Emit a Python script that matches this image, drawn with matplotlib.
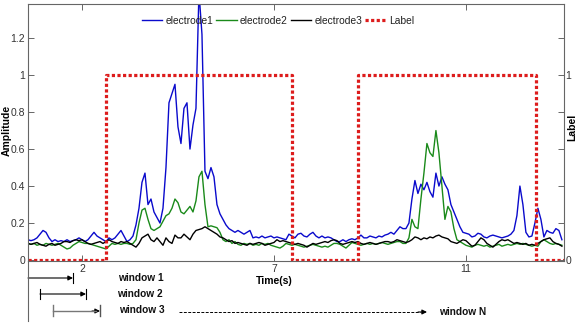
import numpy as np
import matplotlib
matplotlib.use("Agg")
import matplotlib.pyplot as plt
from matplotlib.lines import Line2D
from matplotlib.patches import FancyArrowPatch

plt.rcParams['font.family'] = ['Liberation Sans', 'DejaVu Sans']

# ---------------- data (sample index, uniform sampling) ----------------
electrode1 = [
    0.11, 0.105, 0.11, 0.12, 0.14, 0.16, 0.15, 0.12, 0.10, 0.11,
    0.10, 0.105, 0.10, 0.11, 0.10, 0.105, 0.11, 0.12, 0.11, 0.10,
    0.11, 0.13, 0.15, 0.13, 0.12, 0.11, 0.10, 0.12, 0.11, 0.12,
    0.14, 0.16, 0.13, 0.10, 0.11, 0.13, 0.19, 0.28, 0.42, 0.47,
    0.30, 0.33, 0.26, 0.23, 0.20, 0.28, 0.50, 0.85, 0.90, 0.95,
    0.72, 0.63, 0.82, 0.85, 0.60, 0.73, 0.82, 1.45, 1.22, 0.48,
    0.44, 0.50, 0.45, 0.30, 0.25, 0.22, 0.19, 0.17, 0.16, 0.15,
    0.16, 0.15, 0.14, 0.15, 0.16, 0.12, 0.125, 0.12, 0.13, 0.12,
    0.125, 0.13, 0.12, 0.125, 0.12, 0.115, 0.11, 0.14, 0.13, 0.12,
    0.14, 0.145, 0.13, 0.125, 0.14, 0.15, 0.13, 0.12, 0.13, 0.12,
    0.125, 0.12, 0.11, 0.10, 0.10, 0.11, 0.10, 0.11, 0.115, 0.11,
    0.12, 0.135, 0.12, 0.12, 0.13, 0.125, 0.12, 0.13, 0.125, 0.135,
    0.14, 0.15, 0.14, 0.16, 0.18, 0.17, 0.17, 0.20, 0.33, 0.43,
    0.36, 0.41, 0.38, 0.42, 0.37, 0.34, 0.47, 0.40, 0.45, 0.41,
    0.38, 0.30, 0.26, 0.22, 0.18, 0.15, 0.145, 0.14, 0.125, 0.13,
    0.145, 0.14, 0.125, 0.12, 0.13, 0.135, 0.13, 0.125, 0.12, 0.125,
    0.13, 0.14, 0.16, 0.24, 0.40, 0.30, 0.15, 0.125, 0.13, 0.20,
    0.28, 0.22, 0.125, 0.16, 0.15, 0.145, 0.17, 0.16, 0.11,
]
electrode2 = [
    0.09, 0.085, 0.09, 0.08, 0.085, 0.08, 0.09, 0.085, 0.08, 0.085,
    0.09, 0.08, 0.07, 0.06, 0.065, 0.08, 0.09, 0.10, 0.095, 0.09,
    0.09, 0.085, 0.08, 0.075, 0.07, 0.065, 0.06, 0.075, 0.09, 0.085,
    0.09, 0.085, 0.09, 0.09, 0.085, 0.09, 0.11, 0.20, 0.27, 0.28,
    0.22, 0.17, 0.16, 0.17, 0.18, 0.21, 0.24, 0.25, 0.28, 0.33,
    0.31, 0.26, 0.25, 0.27, 0.29, 0.26, 0.32, 0.45, 0.48, 0.30,
    0.18, 0.185, 0.18, 0.175, 0.15, 0.11, 0.10, 0.11, 0.09, 0.10,
    0.085, 0.08, 0.09, 0.085, 0.09, 0.08, 0.085, 0.08, 0.09, 0.085,
    0.09, 0.08, 0.075, 0.07, 0.065, 0.075, 0.09, 0.085, 0.08, 0.085,
    0.08, 0.075, 0.07, 0.075, 0.08, 0.085, 0.08, 0.075, 0.07, 0.075,
    0.07, 0.08, 0.09, 0.09, 0.085, 0.075, 0.065, 0.08, 0.095, 0.09,
    0.085, 0.08, 0.085, 0.09, 0.085, 0.09, 0.085, 0.09, 0.095, 0.09,
    0.085, 0.09, 0.095, 0.10, 0.10, 0.09, 0.09, 0.12, 0.22, 0.18,
    0.17, 0.33, 0.47, 0.63, 0.58, 0.56, 0.70, 0.58, 0.40, 0.22,
    0.29, 0.26, 0.17, 0.11, 0.10, 0.09, 0.08, 0.075, 0.07, 0.08,
    0.085, 0.08, 0.075, 0.08, 0.07, 0.075, 0.08, 0.085, 0.075, 0.08,
    0.085, 0.08, 0.085, 0.09, 0.085, 0.09, 0.085, 0.08, 0.075, 0.08,
    0.075, 0.10, 0.11, 0.10, 0.09, 0.085, 0.09, 0.085, 0.08,
]
electrode3 = [
    0.09, 0.085, 0.09, 0.095, 0.085, 0.08, 0.075, 0.085, 0.09, 0.08,
    0.085, 0.09, 0.10, 0.10, 0.095, 0.105, 0.11, 0.105, 0.11, 0.10,
    0.09, 0.085, 0.09, 0.095, 0.10, 0.09, 0.10, 0.11, 0.10, 0.095,
    0.09, 0.10, 0.095, 0.10, 0.09, 0.08, 0.07, 0.09, 0.12, 0.13,
    0.14, 0.11, 0.10, 0.12, 0.10, 0.08, 0.12, 0.10, 0.09, 0.135,
    0.12, 0.12, 0.14, 0.125, 0.11, 0.14, 0.16, 0.165, 0.17, 0.18,
    0.17, 0.16, 0.15, 0.14, 0.125, 0.12, 0.11, 0.10, 0.105, 0.09,
    0.095, 0.09, 0.085, 0.08, 0.09, 0.085, 0.09, 0.095, 0.09, 0.08,
    0.085, 0.09, 0.095, 0.11, 0.10, 0.105, 0.10, 0.095, 0.09, 0.085,
    0.09, 0.085, 0.08, 0.07, 0.08, 0.09, 0.085, 0.09, 0.095, 0.10,
    0.095, 0.105, 0.11, 0.105, 0.09, 0.085, 0.09, 0.095, 0.10, 0.095,
    0.10, 0.09, 0.085, 0.09, 0.095, 0.09, 0.085, 0.09, 0.095, 0.10,
    0.10, 0.095, 0.10, 0.11, 0.105, 0.10, 0.095, 0.10, 0.11, 0.125,
    0.12, 0.11, 0.12, 0.115, 0.125, 0.12, 0.13, 0.135, 0.125, 0.12,
    0.115, 0.10, 0.095, 0.09, 0.10, 0.11, 0.105, 0.09, 0.075, 0.08,
    0.10, 0.12, 0.11, 0.09, 0.08, 0.07, 0.085, 0.10, 0.11, 0.105,
    0.11, 0.10, 0.09, 0.095, 0.09, 0.085, 0.09, 0.08, 0.085, 0.08,
    0.09, 0.10, 0.11, 0.115, 0.12, 0.10, 0.09, 0.085, 0.075,
]
# label: step changes (in sample index) and levels
label_edges = [0, 26, 88, 110, 169.3, 178.7]
label_levels = [0, 1, 0, 1, 0]

series_names = ['electrode1', 'electrode2', 'electrode3', 'Label']
xtick_labels = ['2', '7', '11']
xtick_pos = [18, 82, 146]
ytick_vals = [0, 0.2, 0.4, 0.6, 0.8, 1, 1.2]
ytick_labels = ['0', '0.2', '0.4', '0.6', '0.8', '1', '1.2']
right_labels = ['0', '', '', '', '', '1', '']

# ---------------- figure ----------------
W, H = 579, 324
fig = plt.figure(figsize=(W / 100, H / 100), dpi=100)
ax = fig.add_axes([28 / W, 1 - 261 / H, (564 - 28) / W, (261 - 4) / H])

x = np.arange(len(electrode1))
ax.plot(x, electrode1, color='#0a0acc', lw=1.0, label=series_names[0])
ax.plot(x, electrode2, color='#1a8a1a', lw=1.0, label=series_names[1])
ax.plot(x, electrode3, color='black', lw=1.0, label=series_names[2])

lx = np.array(label_edges)
ly = np.array(label_levels + [label_levels[-1]])
ax.step(lx, ly, where='post', color='#dd1c1c', lw=2.3,
        linestyle=(0, (1.0, 0.75)), label=series_names[3])

ax.set_xlim(0, 178.7)
ax.set_ylim(-0.005, 1.384)

grey = '#666666'
for s in ax.spines.values():
    s.set_color(grey)
    s.set_linewidth(0.8)

ax.set_xticks(xtick_pos)
ax.set_xticklabels(xtick_labels)
ax.set_yticks(ytick_vals)
ax.set_yticklabels(ytick_labels)
ax.tick_params(direction='in', length=4, width=0.7, color=grey,
               labelsize=7.5, labelcolor='#333333', top=True, right=False, pad=2)

ax2 = ax.twinx()
ax2.set_ylim(ax.get_ylim())
ax2.set_yticks(ytick_vals)
ax2.set_yticklabels(right_labels)
ax2.tick_params(direction='in', length=4, width=0.7, color=grey,
                labelsize=7.5, labelcolor='#333333', pad=1)
for s in ax2.spines.values():
    s.set_visible(False)

# axis titles
fig.text(7 / W, 1 - 130 / H, 'Amplitude', fontsize=7.5, fontweight='bold',
         rotation=90, ha='center', va='center')
fig.text(572 / W, 1 - 127 / H, 'Label', fontsize=7.5, fontweight='bold',
         rotation=90, ha='center', va='center')
fig.text(274 / W, 1 - 281 / H, 'Time(s)', fontsize=7.5, fontweight='bold',
         ha='center', va='center')

leg = ax.legend(ncol=4, loc='center', bbox_to_anchor=((278 - 28) / 536, (261 - 21) / 257),
                frameon=False, fontsize=7.4, handlelength=2.0, handletextpad=0.3,
                columnspacing=0.3, borderpad=0.1)
for t in leg.get_texts():
    t.set_color('#222222')


# ---------------- window annotations (figure pixel coords) ----------------
def fp(px, py):
    return (px / W, 1 - py / H)


def seg(p0, p1, color='black', lw=0.8, ls='-'):
    (x0, y0), (x1, y1) = fp(*p0), fp(*p1)
    fig.add_artist(Line2D([x0, x1], [y0, y1], transform=fig.transFigure,
                          color=color, lw=lw, linestyle=ls))


def arrow(p0, p1, color='black', lw=0.8, ls='-'):
    fig.add_artist(FancyArrowPatch(
        fp(*p0), fp(*p1), transform=fig.transFigure, arrowstyle='-|>',
        mutation_scale=7, color=color, lw=lw, linestyle=ls,
        shrinkA=0, shrinkB=0))


# extended left axis line
seg((28, 261), (28, 321), color=grey, lw=0.8)

# window 1
arrow((28, 278), (73, 278))
seg((73, 273), (73, 283))
# window 2
arrow((40, 294), (86, 294))
seg((40, 289), (40, 299))
seg((86, 289), (86, 299))
# window 3
seg((53, 311), (96, 311), color='#777777', lw=1.0)
arrow((92, 311), (100, 311))
seg((53, 305), (53, 316), color='#777777', lw=1.0)
seg((100, 305), (100, 316), color='#555555', lw=1.0)
# dashed arrow to window N
seg((179, 312), (420, 312), lw=0.7, ls=(0, (3, 1.5)))
arrow((418, 312), (427, 312))

for txt, px, py in [('window 1', 118, 278), ('window 2', 117, 294),
                    ('window 3', 119, 310), ('window N', 439, 312)]:
    fig.text(*fp(px, py), txt, fontsize=7.3, fontweight='bold',
             ha='left', va='center', color='#111111')

fig.savefig('out.png', dpi=100)
